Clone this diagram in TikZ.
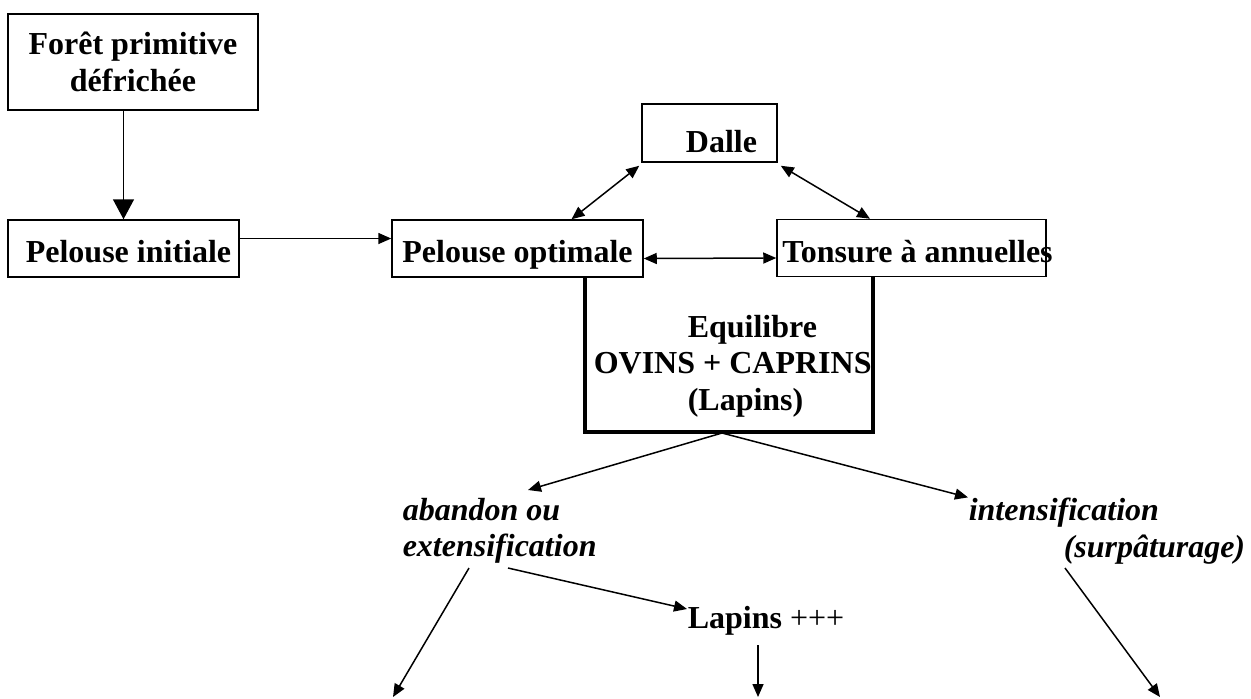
\documentclass[tikz,border=0pt]{standalone}
\usepackage{fontspec}
\setmainfont{Liberation Serif}
\usetikzlibrary{arrows.meta}

\begin{document}
\begin{tikzpicture}[x = 0.5pt, y = -0.5pt, line width=0.75pt,
		box/.style = {draw, inner sep=0pt, font=\fontsize{16}{18.5}\selectfont\bfseries},
		txt/.style = {inner sep=0pt, font=\fontsize{16}{18.2}\selectfont},
		arr/.style = {-{Triangle[length=6.5pt, width=5.5pt]}},
		biarr/.style = {{Triangle[length=6.5pt, width=5.5pt]}-{Triangle[length=6.5pt, width=5.5pt]}}]
		\useasboundingbox (0,0) rectangle (1251,698);
		\node [box, minimum width=125pt, minimum height=48pt, align=center] (foret) at (133,62) {Forêt primitive\\ défrichée};
		\node [box, minimum width=115.5pt, minimum height=28.5pt, text height=14pt, text depth=0pt] (pinit) at (123.5,248.5) {\hspace*{5pt}Pelouse initiale};
		\node [box, minimum width=125.5pt, minimum height=28.5pt, text height=14pt, text depth=0pt] (popt) at (517.5,248.5) {Pelouse optimale};
		\node [box, minimum width=67.5pt, minimum height=29pt, text height=19pt, text depth=0pt] (dalle) at (709.5,133) {\hspace*{12pt}Dalle};
		\node [box, minimum width=134.5pt, minimum height=28.5pt, label={[txt, font=\fontsize{16}{18.5}\selectfont\bfseries, xshift=3pt, yshift=-2pt]center:Tonsure à annuelles}] (tonsure) at (911.5,248) {};
		\draw [line width=2pt] (585,277) -- (585,432) -- (873,432) -- (873,277);
		\coordinate (eqbot) at (722,433);
		\node [txt, font=\fontsize{16}{18.2}\selectfont\bfseries, align=left, anchor=west] (equi) at (593,366) {\hspace*{47pt}Equilibre\\ OVINS + CAPRINS\\ \hspace*{47pt}(Lapins)};
		\node [txt, font=\fontsize{16}{18.2}\selectfont\bfseries\itshape, align=left, anchor=west] (aband) at (402,531) {abandon ou\\ extensification};
		\node [txt, font=\fontsize{16}{18.2}\selectfont\bfseries\itshape, align=left, anchor=west] (intens) at (968,531) {intensification\\ \hspace*{47.5pt}(surpâturage)};
		\node [txt, anchor=west] (lapins) at (687,621) {\textbf{Lapins} +++};
		\coordinate (endleft) at (393,697);
		\coordinate (endmid) at (758,697);
		\coordinate (endright) at (1160,697);
		\draw [-{Triangle[length=10pt, width=10.5pt]}] (pinit.north |- foret.south) -- (pinit.north);
		\draw [arr] ([yshift=5pt]pinit.east) -- ([yshift=5pt]popt.west);
		\draw [biarr] ([yshift=-5pt]popt.east) -- ([yshift=-5pt]tonsure.west);
		\draw [biarr] ([xshift=27pt]popt.north) -- ([xshift=-1pt, yshift=-1.5pt]dalle.south west);
		\draw [biarr] ([xshift=1.5pt, yshift=-1.5pt]dalle.south east) -- ([xshift=-20.75pt]tonsure.north);
		\draw [arr] (eqbot) -- (528,490);
		\draw [arr] (eqbot) -- (intens.north west);
		\draw [arr] (508,568) -- ([yshift=6pt]lapins.west);
		\draw [arr] (469,568) -- (endleft);
		\draw [arr] (758,645) -- (endmid);
		\draw [arr] (1065,568) -- (endright);
\end{tikzpicture}
\end{document}
